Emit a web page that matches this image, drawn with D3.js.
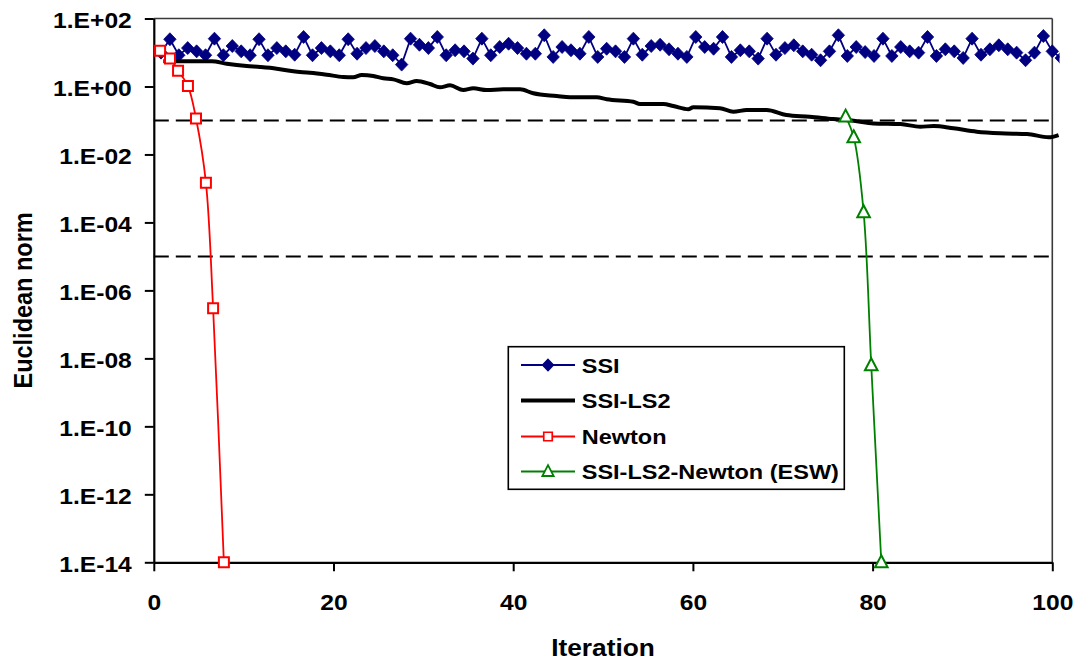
<!DOCTYPE html>
<html><head><meta charset="utf-8">
<script src="https://cdn.jsdelivr.net/npm/d3@7"></script>
<style>
body{margin:0;background:#fff;}
svg{display:block;}
text{font-family:"Liberation Sans",Arial,sans-serif;font-weight:bold;fill:#000;}
</style>
</head><body>
<svg id="chart" width="1083" height="666"></svg>
<script>
// ---------- data ----------
const seriesNames = ["SSI", "SSI-LS2", "Newton", "SSI-LS2-Newton (ESW)"];

const ssiValues = [
  9.9, 24.5, 8.3, 13.5, 10.8, 8.3, 25.5, 8.3, 15.5, 10.8,
  8.3, 24.5, 8.3, 13.5, 10.8, 8.6, 28.6, 8.3, 13.5, 10.8,
  8.3, 24.5, 9.2, 13.5, 15.5, 10.8, 8.3, 4.4, 25.5, 16.9,
  13.5, 28.6, 8.3, 11.6, 10.8, 6.6, 25.5, 8.3, 14.5, 18.1,
  13.5, 9.2, 9.2, 32.1, 7.4, 14.5, 11.6, 9.2, 28.6, 7.4,
  12.9, 10.8, 7.4, 25.5, 8.6, 15.5, 16.9, 12.4, 9.2, 7.4,
  28.6, 14.5, 12.9, 28.6, 7.4, 11.6, 10.8, 6.6, 25.5, 8.6,
  13.5, 16.3, 10.8, 8.6, 5.9, 10.8, 32.1, 7.9, 14.5, 10.3,
  7.9, 25.5, 7.9, 14.5, 10.8, 9.9, 28.6, 7.9, 12.4, 10.8,
  6.9, 25.5, 8.6, 12.4, 16.3, 12.4, 9.9, 5.9, 9.9, 30.5,
  10.8, 6.9
];
const ssiFirstIteration = 0.8;
const ssiIterationStep = 0.992;

const ls2Iterations = [
  1.06, 6.44, 8.11, 10.34, 11.82, 13.68, 15.53, 17.38, 19.24, 21.09,
  22.2, 23.14, 24.43, 25.54, 26.66, 28.15, 29.26, 30.74, 31.85, 32.97,
  34.45, 35.56, 37.05, 38.9, 40.76, 42.24, 44.84, 46.32, 49.29, 50.41,
  53.37, 54.11, 56.71, 57.82, 59.49, 60.04, 63.0, 64.5, 66.0, 68.2,
  70.4, 73.0, 75.6, 77.9, 80.1, 83.1, 85.3, 86.8, 89.0, 91.6,
  94.2, 97.2, 99.6, 100.7
];
const ls2Values = [
  5.50, 5.50, 4.68, 4.00, 3.74, 3.34, 2.79, 2.54, 2.22, 1.90,
  1.86, 2.17, 2.03, 1.74, 1.62, 1.24, 1.45, 1.18, 0.944, 1.08,
  0.787, 0.883, 0.787, 0.825, 0.825, 0.630, 0.524, 0.480, 0.480, 0.419,
  0.356, 0.305, 0.305, 0.266, 0.213, 0.244, 0.228, 0.181, 0.203, 0.203,
  0.145, 0.129, 0.110, 0.098, 0.082, 0.0785, 0.0654, 0.0686, 0.0587, 0.0467,
  0.0419, 0.0399, 0.0319, 0.0373
];

const newtonIterations = [0.7, 1.8, 2.7, 3.8, 4.7, 5.8, 6.6, 7.8];
const newtonValues = [11.3, 6.7, 2.9, 1.03, 0.114, 1.48e-3, 3.0e-7, 1e-14];

const eswIterations = [77.0, 77.9, 79.0, 79.85, 80.97];
const eswValues = [0.13, 0.032, 2.0e-4, 6.3e-9, 1e-14];

const thresholdValues = [1e-1, 1e-5];

const xTickValues = [0, 20, 40, 60, 80, 100];
const yTickValues = [1e2, 1e0, 1e-2, 1e-4, 1e-6, 1e-8, 1e-10, 1e-12, 1e-14];
const yTickLabels = ["1.E+02", "1.E+00", "1.E-02", "1.E-04", "1.E-06", "1.E-08", "1.E-10", "1.E-12", "1.E-14"];
const xTitle = "Iteration";
const yTitle = "Euclidean norm";

// ---------- layout ----------
const L = 153.8, R = 1052.3, T = 18.5, B = 562.3;
const SX = 1.12; // horizontal text stretch of original
const svg = d3.select("#chart");

const x = d3.scaleLinear().domain([0, 100]).range([L, R]);
const y = d3.scaleLog().domain([1e-14, 1e2]).range([B, T]);

svg.append("defs").append("clipPath").attr("id", "clip")
  .append("rect").attr("x", L - 10).attr("y", T - 20).attr("width", 1059.5 - (L - 10)).attr("height", B - T + 30);

// frame top/right
svg.append("line").attr("x1", L).attr("x2", R).attr("y1", T).attr("y2", T)
  .attr("stroke", "#3a3a3a").attr("stroke-width", 1.6);
svg.append("line").attr("x1", R).attr("x2", R).attr("y1", T).attr("y2", B)
  .attr("stroke", "#3a3a3a").attr("stroke-width", 1.6);

// threshold dashed lines
svg.append("g").selectAll("line").data(thresholdValues).join("line")
  .attr("x1", L).attr("x2", R)
  .attr("y1", d => y(d)).attr("y2", d => y(d))
  .attr("stroke", "#000").attr("stroke-width", 2).attr("stroke-dasharray", "15,7");

// axes
const yAxis = d3.axisLeft(y).tickValues(yTickValues).tickSize(9).tickSizeOuter(0)
  .tickFormat((d, i) => yTickLabels[i]);
const gy = svg.append("g").attr("transform", `translate(${L},0)`).call(yAxis);
gy.select(".domain").attr("stroke", "#000").attr("stroke-width", 2.2);
gy.selectAll(".tick line").attr("stroke", "#000").attr("stroke-width", 2);
gy.selectAll(".tick text").attr("font-size", 22).attr("font-family", null)
  .attr("x", -22 / SX).attr("dy", "0.42em").attr("transform", `scale(${SX},1)`);

const xAxis = d3.axisBottom(x).tickValues(xTickValues).tickSize(9).tickSizeOuter(0)
  .tickFormat(d3.format("d"));
const gx = svg.append("g").attr("transform", `translate(0,${B})`).call(xAxis);
gx.select(".domain").attr("stroke", "#000").attr("stroke-width", 2.2);
gx.selectAll(".tick line").attr("stroke", "#000").attr("stroke-width", 2);
gx.selectAll(".tick text").attr("font-size", 22).attr("font-family", null)
  .attr("y", 47.7).attr("dy", 0).attr("transform", `scale(${SX},1)`);

// axis titles
svg.append("text").attr("transform", `translate(${(L + R) / 2},656) scale(${SX},1)`)
  .attr("text-anchor", "middle").attr("font-size", 23.5).text(xTitle);
svg.append("text").attr("transform", `translate(31.5,${(T + B) / 2 + 10}) rotate(-90) scale(1,${SX})`)
  .attr("text-anchor", "middle").attr("font-size", 23.5).text(yTitle);

// ---------- series ----------
const plot = svg.append("g").attr("clip-path", "url(#clip)");

const ssiData = ssiValues.map((v, i) => ({ x: ssiFirstIteration + i * ssiIterationStep, y: v }));
const ls2Data = ls2Iterations.map((it, i) => ({ x: it, y: ls2Values[i] }));
const newtonData = newtonIterations.map((it, i) => ({ x: it, y: newtonValues[i] }));
const eswData = eswIterations.map((it, i) => ({ x: it, y: eswValues[i] }));

const lineLin = d3.line().x(d => x(d.x)).y(d => y(d.y));
const lineMono = d3.line().x(d => x(d.x)).y(d => y(d.y)).curve(d3.curveMonotoneX);
const lineSmooth = d3.line().x(d => x(d.x)).y(d => y(d.y)).curve(d3.curveCatmullRom.alpha(0.5));

const diamond = "M0,-6.5L6.2,0L0,6.5L-6.2,0Z";
const square = "M-5,-5H5V5H-5Z";
const triangle = "M0,-7L6.3,5H-6.3Z";

// SSI
plot.append("path").datum(ssiData).attr("d", lineLin)
  .attr("fill", "none").attr("stroke", "#000080").attr("stroke-width", 1.8);
plot.append("g").selectAll("path").data(ssiData).join("path")
  .attr("transform", d => `translate(${x(d.x)},${y(d.y)})`)
  .attr("d", diamond).attr("fill", "#000080").attr("stroke", "#000080").attr("stroke-width", 0.8);

// SSI-LS2
plot.append("path").datum(ls2Data).attr("d", lineMono)
  .attr("fill", "none").attr("stroke", "#000").attr("stroke-width", 4).attr("stroke-linejoin", "round");

// Newton
plot.append("path").datum(newtonData).attr("d", lineSmooth)
  .attr("fill", "none").attr("stroke", "#ff0000").attr("stroke-width", 1.8);
plot.append("g").selectAll("path").data(newtonData).join("path")
  .attr("transform", d => `translate(${x(d.x)},${y(d.y)})`)
  .attr("d", square).attr("fill", "#fff").attr("stroke", "#ff0000").attr("stroke-width", 2);

// ESW
plot.append("path").datum(eswData).attr("d", lineSmooth)
  .attr("fill", "none").attr("stroke", "#008000").attr("stroke-width", 1.8);
plot.append("g").selectAll("path").data(eswData).join("path")
  .attr("transform", d => `translate(${x(d.x)},${y(d.y)})`)
  .attr("d", triangle).attr("fill", "#fff").attr("stroke", "#008000").attr("stroke-width", 2);

// ---------- legend ----------
const lg = svg.append("g");
lg.append("rect").attr("x", 508.3).attr("y", 346.7).attr("width", 336).attr("height", 142.6)
  .attr("fill", "#fff").attr("stroke", "#000").attr("stroke-width", 1.6);
const legendStyles = [
  { color: "#000080", width: 1.8, marker: diamond, fill: "#000080", scale: 0.85 },
  { color: "#000", width: 4, marker: null },
  { color: "#ff0000", width: 1.8, marker: square, fill: "#fff", scale: 0.85 },
  { color: "#008000", width: 1.8, marker: triangle, fill: "#fff", scale: 0.9 }
];
const legendY = [365, 400.5, 436.5, 471.5];
seriesNames.forEach((name, i) => {
  const s = legendStyles[i], yy = legendY[i];
  lg.append("line").attr("x1", 521).attr("x2", 575).attr("y1", yy).attr("y2", yy)
    .attr("stroke", s.color).attr("stroke-width", s.width);
  if (s.marker) {
    lg.append("path").attr("d", s.marker)
      .attr("transform", `translate(548,${yy}) scale(${s.scale})`)
      .attr("fill", s.fill).attr("stroke", s.color).attr("stroke-width", 2);
  }
  lg.append("text").attr("transform", `translate(581.7,${yy + 7.6}) scale(${SX},1)`)
    .attr("font-size", 21).text(name);
});
</script>
</body></html>
